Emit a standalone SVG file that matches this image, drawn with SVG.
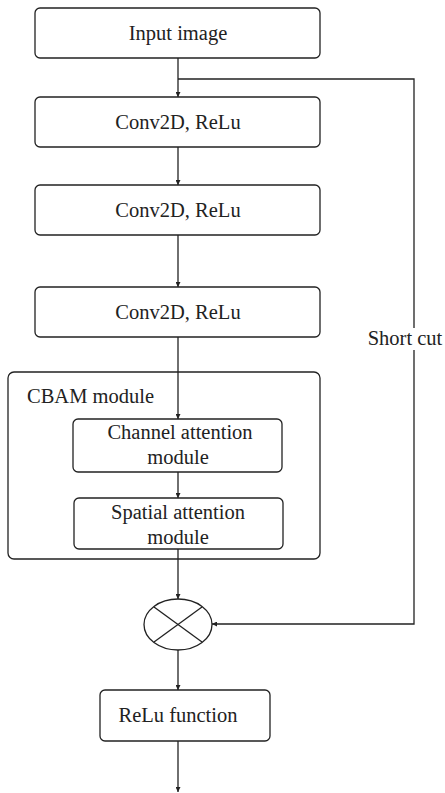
<svg xmlns="http://www.w3.org/2000/svg" width="445" height="793" viewBox="0 0 445 793">
<style>
.box{fill:#fff;stroke:#222;stroke-width:1.3}
.ln{fill:none;stroke:#222;stroke-width:1.3}
.t{font-family:'Liberation Serif','Times New Roman',serif;font-size:20.5px;fill:#222;text-anchor:middle}
</style>
<defs>
<marker id="ah" viewBox="0 0 10 10" refX="10" refY="5" markerWidth="5" markerHeight="5" orient="auto" markerUnits="userSpaceOnUse">
<path d="M0,0 L10,5 L0,10 z" fill="#222"/>
</marker>
</defs>
<rect width="445" height="793" fill="#fff"/>
<g id="connectors">
<line class="ln" x1="178" y1="58" x2="178" y2="97" marker-end="url(#ah)"/>
<line class="ln" x1="178" y1="147" x2="178" y2="185" marker-end="url(#ah)"/>
<line class="ln" x1="178" y1="235" x2="178" y2="287" marker-end="url(#ah)"/>
<line class="ln" x1="178" y1="337" x2="178" y2="419" marker-end="url(#ah)"/>
<line class="ln" x1="178" y1="472" x2="178" y2="498" marker-end="url(#ah)"/>
<line class="ln" x1="178" y1="549" x2="178" y2="599" marker-end="url(#ah)"/>
<line class="ln" x1="178" y1="650" x2="178" y2="690" marker-end="url(#ah)"/>
<line class="ln" x1="178" y1="741" x2="178" y2="792" marker-end="url(#ah)"/>
<polyline class="ln" points="178,79 414,79 414,328"/>
<polyline class="ln" points="414,350 414,624 212,624" marker-end="url(#ah)"/>
<text class="t" x="405" y="345">Short cut</text>
</g>
<g id="input"><rect class="box" x="35" y="8" width="285" height="50" rx="5"/><text class="t" x="178" y="40">Input image</text></g>
<g id="conv1"><rect class="box" x="35" y="97" width="285" height="50" rx="5"/><text class="t" x="178" y="129">Conv2D, ReLu</text></g>
<g id="conv2"><rect class="box" x="35" y="185" width="285" height="50" rx="5"/><text class="t" x="178" y="217">Conv2D, ReLu</text></g>
<g id="conv3"><rect class="box" x="35" y="287" width="285" height="50" rx="5"/><text class="t" x="178" y="319">Conv2D, ReLu</text></g>
<g id="cbam"><rect class="box" x="8" y="372" width="312" height="187" rx="6" style="fill:none"/><text class="t" x="27" y="403" style="text-anchor:start">CBAM module</text></g>
<g id="channel"><rect class="box" x="73" y="419" width="209" height="53" rx="5"/><text class="t" x="180" y="439">Channel attention</text><text class="t" x="178" y="464">module</text></g>
<g id="spatial"><rect class="box" x="74" y="498" width="209" height="51" rx="5"/><text class="t" x="178" y="519">Spatial attention</text><text class="t" x="178" y="544">module</text></g>
<g id="multiply"><ellipse class="box" cx="178" cy="624.5" rx="34" ry="25.5"/><line class="ln" x1="154" y1="607" x2="202" y2="642"/><line class="ln" x1="202" y1="607" x2="154" y2="642"/></g>
<g id="relu"><rect class="box" x="100" y="690" width="170" height="51" rx="5"/><text class="t" x="178" y="722">ReLu function</text></g>
</svg>
